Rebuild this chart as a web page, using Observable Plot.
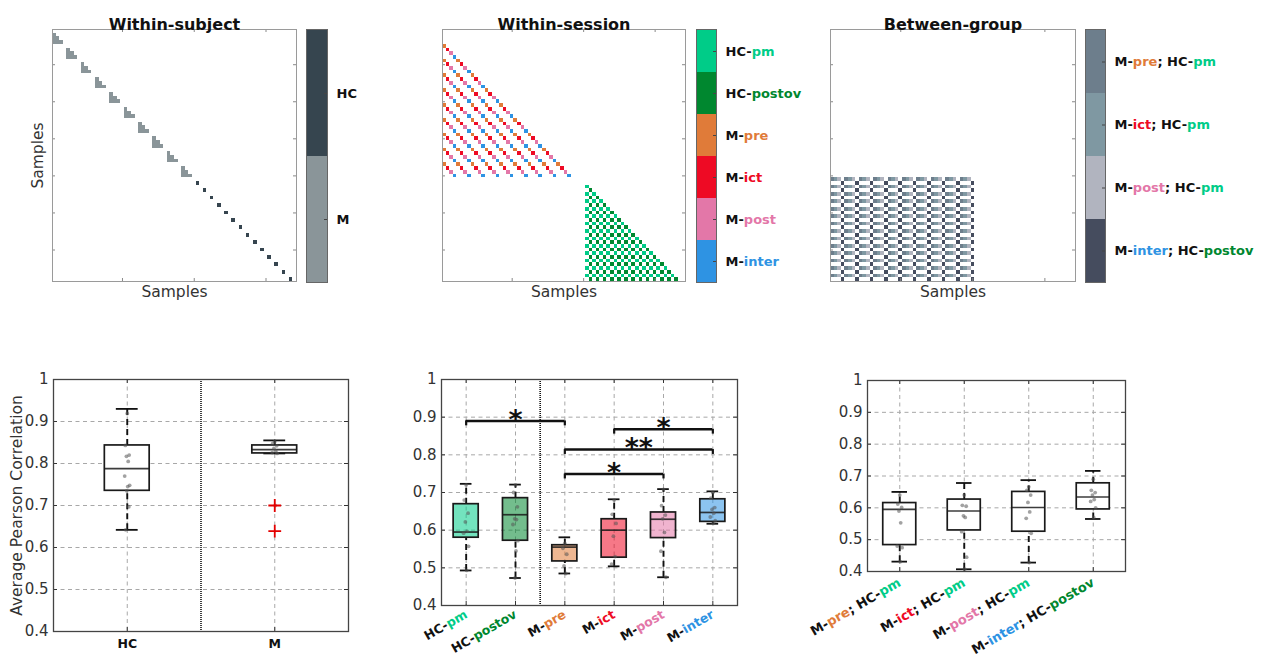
<!DOCTYPE html>
<html><head><meta charset="utf-8">
<script src="https://cdn.jsdelivr.net/npm/d3@7"></script>
<script src="https://cdn.jsdelivr.net/npm/@observablehq/plot@0.6"></script>
<style>
body{margin:0;background:#fff;font-family:"DejaVu Sans",sans-serif;}
#root{position:relative;width:1261px;height:659px;overflow:hidden;background:#fff;}
#root svg{position:absolute;overflow:visible;}
</style></head><body><div id="root"></div>
<script>
// ---------------- data ----------------
const mSessions = ["pre","ict","post","inter"];
const hcSessions = ["pm","postov"];
const nMSubjects = 10;
const nHCSubjects = 14;
const subjectGroups = ["HC","M"];
const subjectGroupColors = ["#36454f","#8a9599"];
const sessionLabels = ["HC-pm","HC-postov","M-pre","M-ict","M-post","M-inter"];
const sessionColors = ["#00cc88","#00872f","#e07b39","#ee0a24","#e377a8","#2e93e3"];
const wordColors = {pm:"#00cc88", postov:"#00872f", pre:"#e07b39", ict:"#ee0a24", post:"#e377a8", inter:"#2e93e3"};
const pairLabels = ["M-pre; HC-pm","M-ict; HC-pm","M-post; HC-pm","M-inter; HC-postov"];
const pairSessions = [["pre","pm"],["ict","pm"],["post","pm"],["inter","postov"]];
const pairColors = ["#6d7e8c","#7f98a2","#b1b4bf","#454c5e"];
const matrixTicksX = [20,40,60];
const matrixTicksY = [10,20,30,40,50,60];
const yTicks = [0.4,0.5,0.6,0.7,0.8,0.9,1];

// bottom-left: within-subject
const groupsD = ["HC","M"];
const loD  = [0.642, 0.824];
const q1D  = [0.735, 0.824];
const medD = [0.788, 0.833];
const q3D  = [0.843, 0.843];
const hiD  = [0.930, 0.855];
const ptsD = [
  [0.919,0.843,0.820,0.817,0.805,0.770,0.748,0.745,0.735,0.697,0.642],
  [0.852,0.848,0.842,0.836,0.830,0.826,0.824,0.700]
];
const outD = [[],[0.700,0.639]];

// bottom-middle: within-session
const loE  = [0.493,0.473,0.485,0.504,0.475,0.617];
const q1E  = [0.580,0.572,0.517,0.527,0.579,0.622];
const medE = [0.595,0.641,0.555,0.600,0.629,0.647];
const q3E  = [0.669,0.685,0.560,0.629,0.647,0.682];
const hiE  = [0.723,0.721,0.581,0.682,0.709,0.703];
const ptsE = [
  [0.720,0.680,0.645,0.622,0.597,0.592,0.557,0.493],
  [0.720,0.700,0.662,0.630,0.628,0.615,0.572,0.545,0.473],
  [0.565,0.552,0.536,0.505,0.485],
  [0.680,0.642,0.618,0.584,0.530,0.510],
  [0.708,0.665,0.640,0.630,0.594,0.544,0.475],
  [0.700,0.685,0.660,0.655,0.645,0.635,0.625,0.618]
];
const sigFrom  = ["HC-pm","M-ict","M-pre","M-pre"];
const sigTo    = ["M-pre","M-inter","M-inter","M-post"];
const sigY     = [0.890,0.868,0.814,0.749];
const sigLabel = ["*","*","**","*"];

// bottom-right: between-group
const loF  = [0.431,0.407,0.428,0.565];
const q1F  = [0.483,0.529,0.525,0.595];
const medF = [0.595,0.590,0.601,0.634];
const q3F  = [0.615,0.626,0.650,0.677];
const hiF  = [0.650,0.678,0.687,0.716];
const ptsF = [
  [0.640,0.612,0.601,0.590,0.553,0.480,0.475,0.431],
  [0.640,0.608,0.605,0.575,0.570,0.525,0.445,0.407],
  [0.666,0.655,0.640,0.617,0.587,0.567,0.520,0.428],
  [0.690,0.655,0.648,0.640,0.626,0.620,0.600,0.570]
];

// ---------------- structure of samples ----------------
const samples = [];
for (let s = 0; s < nMSubjects; s++) for (const ses of mSessions) samples.push({group:"M", subject:"M"+s, session:ses});
for (let s = 0; s < nHCSubjects; s++) for (const ses of hcSessions) samples.push({group:"HC", subject:"HC"+s, session:ses});
samples.forEach((d,k) => d.k = k + 1);
const withinSubject = [], withinSession = [], betweenGroup = [];
for (const a of samples) for (const b of samples) {
  if (a.k <= b.k) continue;
  if (a.subject === b.subject) withinSubject.push({row:a.k, col:b.k, cls:a.group});
  else if (a.group === b.group && a.session === b.session) withinSession.push({row:a.k, col:b.k, cls:a.group + "-" + a.session});
  else if (a.group === "HC" && b.group === "M") {
    const p = pairSessions.findIndex(([m,h]) => m === b.session && h === a.session);
    if (p >= 0) betweenGroup.push({row:a.k, col:b.k, cls:pairLabels[p]});
  }
}

const root = document.getElementById("root");
const FONT = "DejaVu Sans";
function place(svg, left, top) { svg.style.left = left + "px"; svg.style.top = top + "px"; root.appendChild(svg); return svg; }
function colorize(svg, selector) {
  svg.querySelectorAll(selector).forEach(t => {
    const s = t.textContent;
    const parts = s.split(/(postov|pm|pre|ict|post|inter)/);
    while (t.firstChild) t.removeChild(t.firstChild);
    for (const p of parts) {
      if (!p) continue;
      const ts = document.createElementNS("http://www.w3.org/2000/svg","tspan");
      ts.textContent = p;
      ts.setAttribute("fill", wordColors[p] || "#111");
      t.appendChild(ts);
    }
  });
}

// ---------------- matrices ----------------
function matrixPlot({cells, domain, range, title, ylabel, left, top, width, height, ml, mr, mt, mb}) {
  const n = samples.length, iw = width - ml - mr, ih = height - mt - mb;
  const svg = Plot.plot({
    width, height, marginLeft:ml, marginRight:mr, marginTop:mt, marginBottom:mb,
    style:{fontFamily:FONT, background:"transparent", color:"#333"},
    x:{domain:[0.5, n + 0.5], axis:null},
    y:{domain:[0.5, n + 0.5], reverse:true, axis:null},
    color:{domain, range},
    marks:[
      Plot.rect(cells, {x1:d => d.col - 0.5, x2:d => d.col + 0.5, y1:d => d.row - 0.5, y2:d => d.row + 0.5, fill:"cls", shapeRendering:"crispEdges"}),
      Plot.tickX(matrixTicksX, {x:d => d, insetBottom:ih - 3, stroke:"#888"}),
      Plot.tickX(matrixTicksX, {x:d => d, insetTop:ih - 3, stroke:"#888"}),
      Plot.tickY(matrixTicksY, {y:d => d, insetRight:iw - 3, stroke:"#888"}),
      Plot.tickY(matrixTicksY, {y:d => d, insetLeft:iw - 3, stroke:"#888"}),
      Plot.frame({stroke:"#9a9a9a"}),
      Plot.text([title], {frameAnchor:"top", dy:-11, fontWeight:"bold", fontSize:16, fill:"#111"}),
      Plot.text(["Samples"], {frameAnchor:"bottom", dy:15, fontSize:15.5, fill:"#333"}),
      ylabel ? Plot.text([ylabel], {frameAnchor:"left", textAnchor:"middle", rotate:-90, dx:-14, fontSize:15.5, fill:"#333"}) : null
    ]
  });
  return place(svg, left, top);
}
function colorbarPlot({labels, colors, left, top, width, height, barW}) {
  const svg = Plot.plot({
    width, height, marginLeft:0, marginRight:width - barW, marginTop:0, marginBottom:0,
    style:{fontFamily:FONT, background:"transparent", color:"#111"},
    x:{domain:[0,1], axis:null},
    y:{type:"band", domain:labels, padding:0, axis:null},
    color:{domain:labels, range:colors},
    marks:[
      Plot.barX(labels, {x1:0, x2:1, y:d => d, fill:d => d}),
      Plot.tickY(labels, {y:d => d, insetLeft:barW - 3, stroke:"#444"}),
      Plot.frame({stroke:"#666"}),
      Plot.axisY({anchor:"right", tickSize:0, tickPadding:9, fontWeight:"bold", fontSize:13, label:null})
    ]
  });
  colorize(svg, '[aria-label="y-axis tick label"] text');
  return place(svg, left, top);
}

matrixPlot({cells:withinSubject, domain:subjectGroups, range:subjectGroupColors, title:"Within-subject", ylabel:"Samples",
  left:0, top:0, width:340, height:310, ml:52, mr:44, mt:29, mb:29});
colorbarPlot({labels:subjectGroups, colors:subjectGroupColors, left:306, top:29, width:60, height:253, barW:21});

matrixPlot({cells:withinSession, domain:sessionLabels, range:sessionColors, title:"Within-session",
  left:400, top:0, width:300, height:310, ml:42, mr:15, mt:29, mb:29});
colorbarPlot({labels:sessionLabels, colors:sessionColors, left:696, top:29, width:100, height:253, barW:20});

matrixPlot({cells:betweenGroup, domain:pairLabels, range:pairColors, title:"Between-group",
  left:800, top:0, width:290, height:310, ml:30, mr:15, mt:29, mb:29});
colorbarPlot({labels:pairLabels, colors:pairColors, left:1085, top:29, width:170, height:253, barW:20});

// ---------------- box plots ----------------
const jit = [0, -1.2, 1.2, -0.5, 0.6, -1.6, 1.5, 0.3, -0.3, 1, -1];
function boxPlot({cats, lo, q1, med, q3, hi, pts, outl, filled, boxW, capW, left, top, width, height, ml, mr, mt, mb, rotate, divider, sig, ylabel, labelSize, tickPad}) {
  const n = cats.length, iw = width - ml - mr, ih = height - mt - mb, u = n / iw;
  const idx = c => cats.indexOf(c) + 1;
  const rows = cats.map((c,i) => ({c, i:i + 1, lo:lo[i], q1:q1[i], med:med[i], q3:q3[i], hi:hi[i]}));
  const idxs = rows.map(d => d.i);
  const points = pts.flatMap((arr,i) => arr.map((v,k) => ({i:i + 1, v, j:jit[k % jit.length]})));
  const outliers = (outl || []).flatMap((arr,i) => arr.map(v => ({i:i + 1, v})));
  const sigRows = (sig || []).map(s => ({a:idx(s.from), b:idx(s.to), y:s.y, label:s.label}));
  const sigEnds = sigRows.flatMap(s => [{x:s.a, y:s.y}, {x:s.b, y:s.y}]);
  const grid = {stroke:"#a8a8a8", strokeOpacity:1, strokeDasharray:"4,3.5", strokeWidth:1};
  const svg = Plot.plot({
    width, height, marginLeft:ml, marginRight:mr, marginTop:mt, marginBottom:mb,
    style:{fontFamily:FONT, background:"transparent", color:"#333"},
    x:{domain:[0.5, n + 0.5]},
    y:{domain:[0.4, 1]},
    color:{domain:sessionLabels, range:sessionColors},
    marks:[
      Plot.gridY(yTicks.slice(1, -1), grid),
      Plot.gridX(idxs, grid),
      divider ? Plot.ruleX([divider], {x:d => d, stroke:"#111", strokeWidth:1.6, strokeDasharray:"1,1"}) : null,
      Plot.ruleX(rows, {x:"i", y1:"q3", y2:"hi", stroke:"#111", strokeWidth:1.9, strokeDasharray:"6,4"}),
      Plot.ruleX(rows, {x:"i", y1:"lo", y2:"q1", stroke:"#111", strokeWidth:1.9, strokeDasharray:"6,4"}),
      Plot.ruleY(rows, {y:"hi", x1:d => d.i - capW, x2:d => d.i + capW, stroke:"#111", strokeWidth:1.8}),
      Plot.ruleY(rows, {y:"lo", x1:d => d.i - capW, x2:d => d.i + capW, stroke:"#111", strokeWidth:1.8}),
      Plot.rect(rows, {x1:d => d.i - boxW, x2:d => d.i + boxW, y1:"q1", y2:"q3",
        fill: filled ? "c" : "white", fillOpacity: filled ? 0.55 : 1, stroke:"#1a1a1a", strokeWidth:1.7}),
      Plot.ruleY(rows, {y:"med", x1:d => d.i - boxW, x2:d => d.i + boxW, stroke:"#1a1a1a", strokeOpacity:0.85, strokeWidth:1.7}),
      Plot.dot(points, {x:d => d.i + d.j * 1.6 * u, y:"v", r:1.9, fill:"#555", fillOpacity:0.55}),
      Plot.dot(outliers, {x:"i", y:"v", symbol:"plus", r:4.2, stroke:"#e40000", strokeWidth:1.8}),
      Plot.ruleY(sigRows, {y:"y", x1:"a", x2:"b", stroke:"#111", strokeWidth:2.6}),
      Plot.ruleX(sigEnds, {x:"x", y1:"y", y2:d => d.y - 0.013, stroke:"#111", strokeWidth:2.2}),
      Plot.text(sigRows, {x:d => (d.a + d.b) / 2, y:"y", text:"label", fontSize:27, fontWeight:"bold", lineAnchor:"middle", dy:-1, fill:"#111"}),
      Plot.tickY(yTicks, {y:d => d, insetRight:iw - 4, stroke:"#333"}),
      Plot.tickY(yTicks, {y:d => d, insetLeft:iw - 4, stroke:"#333"}),
      Plot.tickX(idxs, {x:d => d, insetBottom:ih - 4, stroke:"#333"}),
      Plot.tickX(idxs, {x:d => d, insetTop:ih - 4, stroke:"#333"}),
      Plot.frame({stroke:"#444", strokeWidth:1.3}),
      Plot.axisY({ticks:yTicks, tickFormat:d => String(+d.toFixed(1)), tickSize:0, tickPadding:5, fontSize:15, label:null, fill:"#333"}),
      Plot.axisX({ticks:idxs, tickFormat:i => cats[i - 1], tickSize:0, tickPadding:tickPad, tickRotate:rotate, fontSize:labelSize, fontWeight:"bold", label:null, fill:"#111"}),
      ylabel ? Plot.text([ylabel], {frameAnchor:"left", textAnchor:"middle", rotate:-90, dx:-36, fontSize:15.5, fill:"#333"}) : null
    ]
  });
  colorize(svg, '[aria-label="x-axis tick label"] text');
  return place(svg, left, top);
}

boxPlot({cats:groupsD, lo:loD, q1:q1D, med:medD, q3:q3D, hi:hiD, pts:ptsD, outl:outD, filled:false,
  boxW:0.152, capW:0.074, left:0, top:360, width:360, height:299, ml:53, mr:12, mt:19, mb:28,
  rotate:0, divider:1.5, ylabel:"Average Pearson Correlation", labelSize:12.5, tickPad:8});

boxPlot({cats:sessionLabels, lo:loE, q1:q1E, med:medE, q3:q3E, hi:hiE, pts:ptsE, filled:true,
  boxW:0.254, capW:0.118, left:400, top:360, width:360, height:299, ml:41, mr:23, mt:19, mb:54,
  rotate:-30, divider:2.5, labelSize:12.5, tickPad:8,
  sig:sigFrom.map((f,i) => ({from:f, to:sigTo[i], y:sigY[i], label:sigLabel[i]}))});

boxPlot({cats:pairLabels, lo:loF, q1:q1F, med:medF, q3:q3F, hi:hiF, pts:ptsF, filled:false,
  boxW:0.256, capW:0.12, left:800, top:360, width:340, height:299, ml:67, mr:15, mt:20, mb:88,
  rotate:-30, labelSize:13, tickPad:10});
</script></body></html>
